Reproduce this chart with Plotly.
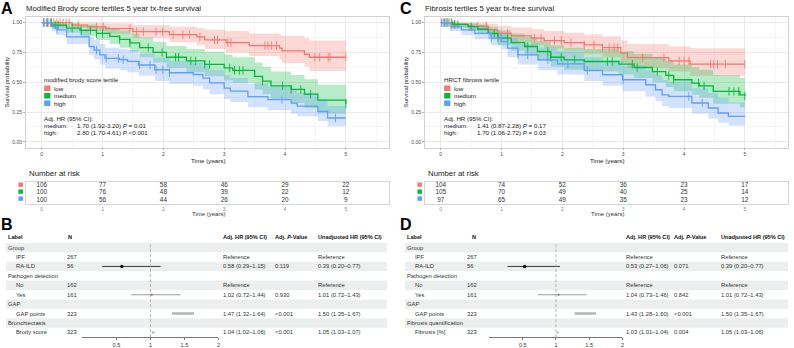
import plotly.graph_objects as go

# ---------------- data ----------------
years = [0, 1, 2, 3, 4, 5]
group_names = ["low", "medium", "high"]

# Panel A: modified Brody score tertiles (KM steps)
a_low_t = [0, 0.5, 0.75, 1.05, 1.5, 2.1, 2.55, 2.68, 3.03, 3.41, 3.91, 3.95, 4.32, 4.4, 5.0]
a_low_s = [1.0, 0.98, 0.965, 0.95, 0.925, 0.90, 0.88, 0.855, 0.833, 0.808, 0.786, 0.763, 0.735, 0.71, 0.71]
a_low_up = [1.0, 1.0, 1.0, 0.995, 0.98, 0.965, 0.955, 0.94, 0.93, 0.91, 0.90, 0.89, 0.87, 0.85, 0.85]
a_low_lo = [1.0, 0.955, 0.93, 0.905, 0.87, 0.835, 0.81, 0.78, 0.75, 0.72, 0.69, 0.66, 0.63, 0.595, 0.595]
a_low_cens = [0.05, 0.1, 0.15, 0.2, 0.25, 0.3, 0.35, 0.4, 0.45, 0.6, 0.9, 1.01, 1.45, 1.56, 1.67, 1.88, 1.99,
              2.16, 2.32, 2.43, 2.6, 2.84, 2.89, 3.06, 3.11, 3.67, 3.72, 3.78, 3.86, 4.49, 4.57, 4.71, 4.74, 5.0]

a_med_t = [0, 0.17, 0.41, 0.63, 0.90, 1.12, 1.28, 1.45, 1.61, 1.83, 2.05, 2.38, 2.68, 3.0, 3.14, 3.5, 3.63,
           3.77, 4.1, 4.32, 4.54, 5.0]
a_med_s = [1.0, 0.98, 0.955, 0.935, 0.91, 0.885, 0.86, 0.83, 0.79, 0.75, 0.71, 0.68, 0.65, 0.62, 0.60, 0.55,
           0.51, 0.47, 0.44, 0.40, 0.35, 0.32]
a_med_up = [1.0, 1.0, 0.995, 0.985, 0.97, 0.955, 0.935, 0.91, 0.875, 0.84, 0.805, 0.78, 0.755, 0.73, 0.71,
            0.665, 0.63, 0.59, 0.56, 0.525, 0.48, 0.46]
a_med_lo = [1.0, 0.95, 0.915, 0.885, 0.855, 0.82, 0.79, 0.755, 0.71, 0.665, 0.62, 0.585, 0.55, 0.515, 0.495,
            0.44, 0.40, 0.355, 0.325, 0.285, 0.235, 0.215]
a_med_cens = [0.03, 0.1, 0.16, 0.22, 0.27, 0.5, 0.65, 0.8, 0.9, 1.0, 1.28, 1.45, 1.75, 1.98, 2.2, 2.25, 2.45,
              2.53, 2.68, 2.76, 3.09, 3.17, 3.25, 3.31, 3.63, 3.96, 4.10, 4.26, 4.42, 5.0]

a_high_t = [0, 0.17, 0.25, 0.41, 0.78, 0.86, 0.955, 1.04, 1.28, 1.41, 1.59, 1.86, 2.1, 2.49, 2.65, 2.76, 3.0,
            3.1, 3.39, 3.72, 4.1, 4.2, 4.54, 4.7, 5.0]
a_high_s = [1.0, 0.965, 0.94, 0.88, 0.80, 0.77, 0.73, 0.70, 0.69, 0.675, 0.645, 0.605, 0.58, 0.565, 0.535,
            0.495, 0.45, 0.425, 0.38, 0.355, 0.325, 0.30, 0.255, 0.20, 0.20]
a_high_up = [1.0, 1.0, 0.99, 0.945, 0.88, 0.855, 0.82, 0.79, 0.78, 0.77, 0.74, 0.705, 0.68, 0.665, 0.64, 0.60,
             0.56, 0.535, 0.49, 0.465, 0.435, 0.41, 0.36, 0.30, 0.30]
a_high_lo = [1.0, 0.93, 0.895, 0.82, 0.73, 0.69, 0.65, 0.615, 0.60, 0.585, 0.555, 0.51, 0.485, 0.47, 0.44,
             0.40, 0.36, 0.335, 0.29, 0.265, 0.235, 0.215, 0.175, 0.13, 0.13]
a_high_cens = [0.03, 0.08, 0.14, 0.25, 0.9, 1.06, 1.26, 1.34, 1.61, 1.78, 1.88, 1.99, 2.1, 3.95, 4.83]

# Panel C: HRCT fibrosis tertiles
c_low_t = [0, 0.2, 0.45, 0.78, 0.94, 1.16, 1.49, 1.7, 2.03, 2.36, 2.66, 2.96, 3.07, 3.75, 4.1, 5.0]
c_low_s = [1.0, 0.985, 0.97, 0.94, 0.91, 0.89, 0.87, 0.85, 0.833, 0.814, 0.79, 0.745, 0.707, 0.68, 0.652, 0.652]
c_low_up = [1.0, 1.0, 1.0, 0.99, 0.975, 0.96, 0.945, 0.93, 0.915, 0.90, 0.885, 0.85, 0.82, 0.80, 0.785, 0.785]
c_low_lo = [1.0, 0.96, 0.935, 0.895, 0.86, 0.835, 0.81, 0.785, 0.765, 0.74, 0.71, 0.66, 0.62, 0.59, 0.555, 0.54]
c_low_cens = [0.02, 0.06, 0.1, 0.15, 0.2, 0.23, 0.61, 0.75, 1.1, 1.54, 1.65, 1.87, 1.98, 2.14, 2.36, 2.52,
              2.66, 2.77, 2.85, 2.91, 3.32, 3.67, 3.92, 4.0, 4.08, 4.44, 4.49, 4.55, 4.68, 5.0]

c_med_t = [0, 0.2, 0.45, 0.61, 0.78, 0.94, 1.16, 1.38, 1.59, 1.81, 2.03, 2.36, 2.93, 3.18, 3.48, 3.70, 3.83,
           4.13, 4.25, 4.48, 4.92, 5.0]
c_med_s = [1.0, 0.985, 0.967, 0.945, 0.911, 0.87, 0.833, 0.80, 0.758, 0.71, 0.688, 0.674, 0.652, 0.624, 0.59,
           0.557, 0.521, 0.493, 0.47, 0.423, 0.395, 0.385]
c_med_up = [1.0, 1.0, 0.995, 0.985, 0.965, 0.935, 0.91, 0.88, 0.845, 0.81, 0.79, 0.78, 0.76, 0.74, 0.71, 0.68,
            0.65, 0.625, 0.605, 0.56, 0.535, 0.53]
c_med_lo = [1.0, 0.96, 0.935, 0.905, 0.86, 0.81, 0.765, 0.725, 0.68, 0.63, 0.605, 0.59, 0.565, 0.535, 0.50,
            0.46, 0.425, 0.395, 0.37, 0.32, 0.29, 0.28]
c_med_cens = [0.07, 0.12, 0.18, 0.23, 0.28, 0.5, 0.88, 0.94, 1.1, 1.43, 1.76, 1.81, 1.98, 2.2, 2.74, 2.82,
              3.15, 3.23, 3.56, 3.75, 3.83, 4.24, 4.33, 4.74, 4.82, 4.9, 5.0]

c_high_t = [0, 0.17, 0.34, 0.56, 0.83, 1.0, 1.1, 1.27, 1.6, 1.92, 2.36, 2.66, 2.99, 3.37, 3.53, 3.64, 3.75,
            4.13, 4.4, 4.56, 4.73, 5.0]
c_high_s = [1.0, 0.967, 0.94, 0.911, 0.87, 0.841, 0.786, 0.73, 0.688, 0.655, 0.60, 0.563, 0.521, 0.479, 0.437,
            0.395, 0.381, 0.326, 0.284, 0.242, 0.214, 0.21]
c_high_up = [1.0, 1.0, 0.985, 0.965, 0.935, 0.915, 0.87, 0.825, 0.79, 0.76, 0.71, 0.68, 0.64, 0.60, 0.56,
             0.52, 0.505, 0.45, 0.41, 0.37, 0.33, 0.31]
c_high_lo = [1.0, 0.93, 0.895, 0.86, 0.81, 0.775, 0.71, 0.65, 0.60, 0.565, 0.51, 0.47, 0.425, 0.38, 0.34, 0.30,
             0.285, 0.235, 0.195, 0.16, 0.135, 0.13]
c_high_cens = [0.01, 0.05, 0.1, 0.17, 0.83, 0.99, 1.27, 1.43, 1.76, 2.09, 2.41, 3.0, 4.08, 4.3]

# Number at risk
a_risk_low = [106, 77, 58, 46, 29, 22]
a_risk_med = [100, 76, 48, 39, 22, 12]
a_risk_high = [100, 56, 44, 26, 20, 9]
c_risk_low = [104, 74, 52, 36, 23, 17]
c_risk_med = [105, 70, 49, 40, 25, 14]
c_risk_high = [97, 65, 49, 35, 23, 12]

# Forest tables
b_labels = ["Group", "IPF", "RA-ILD", "Pathogen detection", "No", "Yes", "GAP", "GAP points",
            "Bronchiectasis", "Brody score"]
b_n = ["", "267", "56", "", "162", "161", "", "323", "", "323"]
b_adj = ["", "Reference", "0.58 (0.29–1.15)", "", "Reference", "1.02 (0.72–1.44)", "",
         "1.47 (1.32–1.64)", "", "1.04 (1.02–1.06)"]
b_p = ["", "", "0.119", "", "", "0.930", "", "&lt;0.001", "", "&lt;0.001"]
b_unadj = ["", "Reference", "0.39 (0.20–0.77)", "", "Reference", "1.01 (0.72–1.43)", "",
           "1.50 (1.35–1.67)", "", "1.05 (1.03–1.07)"]
b_hr = [None, None, 0.58, None, None, 1.02, None, 1.47, None, 1.04]
b_lo = [None, None, 0.29, None, None, 0.72, None, 1.32, None, 1.02]
b_hi = [None, None, 1.15, None, None, 1.44, None, 1.64, None, 1.06]

d_labels = ["Group", "IPF", "RA-ILD", "Pathogen detection", "No", "Yes", "GAP", "GAP points",
            "Fibrosis quantification", "Fibrosis [%]"]
d_n = ["", "267", "56", "", "162", "161", "", "323", "", "323"]
d_adj = ["", "Reference", "0.53 (0.27–1.06)", "", "Reference", "1.04 (0.73–1.46)", "",
         "1.43 (1.28–1.60)", "", "1.03 (1.01–1.04)"]
d_p = ["", "", "0.071", "", "", "0.842", "", "&lt;0.001", "", "0.004"]
d_unadj = ["", "Reference", "0.39 (0.20–0.77)", "", "Reference", "1.01 (0.72–1.43)", "",
           "1.50 (1.35–1.67)", "", "1.05 (1.03–1.06)"]
d_hr = [None, None, 0.53, None, None, 1.04, None, 1.43, None, 1.03]
d_lo = [None, None, 0.27, None, None, 0.73, None, 1.28, None, 1.01]
d_hi = [None, None, 1.06, None, None, 1.46, None, 1.60, None, 1.04]

header_cols = ["Label", "N", "Adj. HR (95% CI)", "Adj. <i>P</i>-Value", "Unadjusted HR (95% CI)"]

# ---------------- styling ----------------
W, H = 794, 348
FONT = "Liberation Sans, Arial, Helvetica, sans-serif"
COLORS = ["#F8766D", "#00BA38", "#619CFF"]
FILLS = ["rgba(248,118,109,0.28)", "rgba(0,186,56,0.28)", "rgba(97,156,255,0.28)"]
STRIPE = "#edefef"


def px(x):
    return x / W


def py(y):
    return 1 - y / H


fig = go.Figure()
annotations = []
shapes = []


def txt(x, y, s, size=6.0, color="#333333", xanchor="left", bold=False, angle=0):
    if bold:
        s = "<b>" + s + "</b>"
    annotations.append(dict(x=px(x), y=py(y), xref="paper", yref="paper", text=s, showarrow=False,
                            xanchor=xanchor, yanchor="middle", textangle=angle, borderpad=0,
                            font=dict(size=size, color=color, family=FONT)))


def step_value(ts, ss, c):
    val = ss[0]
    for t, s in zip(ts, ss):
        if t <= c:
            val = s
    return val


def add_km(xa, ya, curves):
    # bands first
    for i, (t, s, up, lo, cens) in enumerate(curves):
        fig.add_trace(go.Scatter(x=t, y=up, mode="lines", line=dict(width=0, shape="hv"),
                                 xaxis=xa, yaxis=ya, showlegend=False, hoverinfo="skip"))
        fig.add_trace(go.Scatter(x=t, y=lo, mode="lines", line=dict(width=0, shape="hv"),
                                 fill="tonexty", fillcolor=FILLS[i],
                                 xaxis=xa, yaxis=ya, showlegend=False, hoverinfo="skip"))
    for i, (t, s, up, lo, cens) in enumerate(curves):
        fig.add_trace(go.Scatter(x=t, y=s, mode="lines", line=dict(width=1.3, shape="hv", color=COLORS[i]),
                                 xaxis=xa, yaxis=ya, showlegend=False))
        fig.add_trace(go.Scatter(x=cens, y=[step_value(t, s, c) for c in cens], mode="markers",
                                 marker=dict(symbol="line-ns-open", size=6, color=COLORS[i],
                                             line=dict(width=0.9, color=COLORS[i])),
                                 xaxis=xa, yaxis=ya, showlegend=False))


add_km("x", "y", [
    (a_low_t, a_low_s, a_low_up, a_low_lo, a_low_cens),
    (a_med_t, a_med_s, a_med_up, a_med_lo, a_med_cens),
    (a_high_t, a_high_s, a_high_up, a_high_lo, a_high_cens),
])
add_km("x2", "y2", [
    (c_low_t, c_low_s, c_low_up, c_low_lo, c_low_cens),
    (c_med_t, c_med_s, c_med_up, c_med_lo, c_med_cens),
    (c_high_t, c_high_s, c_high_up, c_high_lo, c_high_cens),
])

# risk tables
for xa, ya, rows in [("x3", "y3", [a_risk_low, a_risk_med, a_risk_high]),
                     ("x4", "y4", [c_risk_low, c_risk_med, c_risk_high])]:
    for r, vals in enumerate(rows):
        fig.add_trace(go.Scatter(x=years, y=[r] * len(years), mode="text", text=[str(v) for v in vals],
                                 textfont=dict(size=6.4, color="#333333", family=FONT),
                                 xaxis=xa, yaxis=ya, showlegend=False, hoverinfo="skip"))


# forest plots
def add_forest(xa, ya, hr, lo, hi):
    styles = {2: ("#111111", 0.8, 3.5), 5: ("#9a9a9a", 1.1, 2.0), 7: ("#b4b4b4", 2.4, 0),
              9: ("#b4b4b4", 2.0, 0)}
    for i in range(len(hr)):
        if hr[i] is None:
            continue
        col, w, ms = styles[i]
        fig.add_trace(go.Scatter(x=[lo[i], hi[i]], y=[i, i], mode="lines", line=dict(color=col, width=w),
                                 xaxis=xa, yaxis=ya, showlegend=False, hoverinfo="skip"))
        if ms > 0:
            fig.add_trace(go.Scatter(x=[hr[i]], y=[i], mode="markers",
                                     marker=dict(color="#111111" if i == 2 else "#777777", size=ms),
                                     xaxis=xa, yaxis=ya, showlegend=False, hoverinfo="skip"))


add_forest("x5", "y5", b_hr, b_lo, b_hi)
add_forest("x6", "y6", d_hr, d_lo, d_hi)

# ---------------- text & decorations ----------------
row_y = [248.3 + 9.45 * i for i in range(10)]
risk_rows_y = [185.2, 192.2, 199.2]

for off, title, legtitle, hrs in [
    (0, "Modified Brody score tertiles 5 year tx-free survival", "modified brody score tertile",
     [("medium:", "1.70 (1.92-3.20) <i>P</i> = 0.01"), ("high:", "2.80 (1.70-4.61) <i>P</i> &lt;0.001")]),
    (400, "Fibrosis tertiles 5 year tx-free survival", "HRCT fibrosis tertile",
     [("medium:", "1.41 (0.87-2.28) <i>P</i> = 0.17"), ("high:", "1.70 (1.06-2.72) <i>P</i> = 0.03")]),
]:
    lo_ = off + (1 if off else 0)
    txt(off + 7.5, 9, "A" if off == 0 else "C", size=16, color="#000000", xanchor="center", bold=True)
    txt(off + 25, 8.5, title, size=7.8, color="#222222")
    txt(off + 7, 82.5, "Survival probability", size=6, color="#222222", xanchor="center", angle=-90)
    txt(off + 209.5, 161, "Time (years)", size=6.2, color="#222222", xanchor="center")
    txt(lo_ + 43, 79.5, legtitle, size=6.2, color="#222222")
    for k, (nm, yy) in enumerate(zip(group_names, [88.5, 96, 103.5])):
        shapes.append(dict(type="rect", xref="paper", yref="paper", x0=px(lo_ + 44.3), x1=px(lo_ + 50.5),
                           y0=py(yy + 2.8), y1=py(yy - 2.8), fillcolor=COLORS[k], line=dict(width=0)))
        txt(lo_ + 53.3, yy, nm, size=6.2, color="#222222")
    txt(lo_ + 43.3, 118.5, "Adj. HR (95% CI):", size=6.2, color="#222222")
    for k, (a, b) in enumerate(hrs):
        txt(lo_ + 43.3, 125.5 + 7 * k, a, size=6.2, color="#222222")
        txt(lo_ + 76.3, 125.5 + 7 * k, b, size=6.2, color="#222222")
    # risk table
    txt(off + 28, 174.3, "Number at risk", size=7.8, color="#222222")
    for k, yy in enumerate(risk_rows_y):
        shapes.append(dict(type="rect", xref="paper", yref="paper", x0=px(off + 18.5), x1=px(off + 23),
                           y0=py(yy + 2.2), y1=py(yy - 2.2), fillcolor=COLORS[k], line=dict(width=0)))
    txt(off + 209.5, 215, "Time (years)", size=6, color="#333333", xanchor="center")

# forest tables text
for off, letter, labels, ns, adj, pv, un, ncol_h, ncol_v, c_adj, c_p, c_un, strip_r in [
    (0, "B", b_labels, b_n, b_adj, b_p, b_unadj, 66.7, 65.7, 222.7, 275, 318.3, 388),
    (400, "D", d_labels, d_n, d_adj, d_p, d_unadj, 471.7, 466.7, 626.7, 675, 721.7, 790),
]:
    txt(off + 7, 225, letter, size=16, color="#000000", xanchor="center", bold=True)
    hx = [off + 7.3, ncol_h, c_adj, c_p, c_un]
    for hxx, h in zip(hx, header_cols):
        txt(hxx, 237.7, h, size=5.6, color="#111111", bold=True)
    for i in range(10):
        if i % 2 == 0:
            shapes.append(dict(type="rect", xref="paper", yref="paper", x0=px(off + 6), x1=px(strip_r),
                               y0=py(row_y[i] + 4.72), y1=py(row_y[i] - 4.72), fillcolor=STRIPE,
                               line=dict(width=0), layer="below"))
        indent = 7.3 if ns[i] == "" else 15
        txt(off + indent, row_y[i], labels[i], size=5.8)
        if ns[i]:
            txt(ncol_v, row_y[i], ns[i], size=5.8)
        if adj[i]:
            txt(c_adj, row_y[i], adj[i], size=5.8)
        if pv[i]:
            txt(c_p, row_y[i], pv[i], size=5.8)
        if un[i]:
            txt(c_un, row_y[i], un[i], size=5.8)

for xa in ["x5", "x6"]:
    shapes.append(dict(type="line", xref=xa, yref="paper", x0=1, x1=1, y0=py(338.1), y1=py(243.3),
                       line=dict(color="#9a9a9a", width=0.7, dash="3px,2px")))

# ---------------- axes ----------------
km_x = dict(range=[-0.26, 5.71], tickvals=years, ticks="outside", ticklen=2, tickcolor="#b3b3b3",
            tickwidth=0.6, tickfont=dict(size=5, color="#4d4d4d", family=FONT), showgrid=True,
            gridcolor="#ebebeb", gridwidth=0.7,
            minor=dict(dtick=0.5, tick0=0, showgrid=True, gridcolor="#f5f5f5", gridwidth=0.5),
            showline=True, mirror=True, linecolor="#d0d0d0", linewidth=0.8, zeroline=False)
km_y = dict(range=[-0.048, 1.048], tickvals=[0, 0.25, 0.5, 0.75, 1.0], tickformat=".2f", ticks="outside",
            ticklen=2, tickcolor="#b3b3b3", tickwidth=0.6, tickfont=dict(size=5, color="#4d4d4d", family=FONT),
            showgrid=True, gridcolor="#ebebeb", gridwidth=0.7,
            minor=dict(dtick=0.125, tick0=0, showgrid=True, gridcolor="#f5f5f5", gridwidth=0.5),
            showline=True, mirror=True, linecolor="#d0d0d0", linewidth=0.8, zeroline=False)
risk_x = dict(range=[-0.26, 5.71], tickvals=years, ticks="", tickfont=dict(size=5, color="#888888", family=FONT),
              showgrid=False, showline=True, mirror=True, linecolor="#d6d6d6", linewidth=0.8, zeroline=False)
risk_y = dict(range=[2.47, -0.4], showticklabels=False, ticks="", showgrid=False, showline=True, mirror=True,
              linecolor="#d6d6d6", linewidth=0.8, zeroline=False, domain=[py(204.5), py(182.4)])
forest_x = dict(range=[0, 2], tickvals=[0.5, 1, 1.5, 2], ticktext=["0.5", "1", "1.5", "2"], ticks="outside",
                ticklen=2, tickcolor="#777777", tickwidth=0.6,
                tickfont=dict(size=5.5, color="#333333", family=FONT), showgrid=False, showline=True,
                linecolor="#777777", linewidth=0.7, zeroline=False)
forest_y = dict(range=[9.5, -0.5], visible=False, domain=[py(338.1), py(243.6)])

fig.update_layout(
    width=W, height=H, margin=dict(l=0, r=0, t=0, b=0),
    paper_bgcolor="white", plot_bgcolor="rgba(0,0,0,0)",
    font=dict(family=FONT),
    showlegend=False,
    xaxis=dict(km_x, domain=[px(26), px(390)], anchor="y"),
    yaxis=dict(km_y, domain=[py(148), py(17)], anchor="x"),
    xaxis2=dict(km_x, domain=[px(426), px(790)], anchor="y2"),
    yaxis2=dict(km_y, domain=[py(148), py(17)], anchor="x2"),
    xaxis3=dict(risk_x, domain=[px(26), px(390)], anchor="y3"),
    yaxis3=dict(risk_y, anchor="x3"),
    xaxis4=dict(risk_x, domain=[px(426), px(790)], anchor="y4"),
    yaxis4=dict(risk_y, anchor="x4"),
    xaxis5=dict(forest_x, domain=[px(82.6), px(219)], anchor="y5"),
    yaxis5=dict(forest_y, anchor="x5"),
    xaxis6=dict(forest_x, domain=[px(490.7), px(624)], anchor="y6"),
    yaxis6=dict(forest_y, anchor="x6"),
    annotations=annotations,
    shapes=shapes,
)

fig.write_html("out.html")
